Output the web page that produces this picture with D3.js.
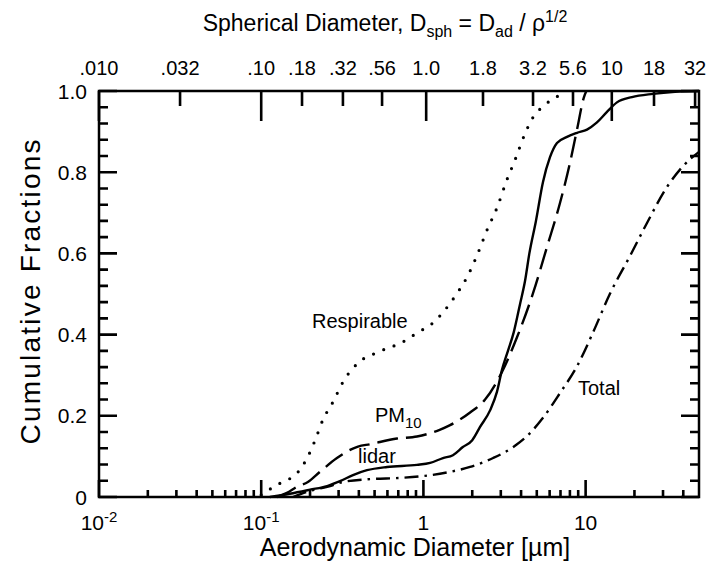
<!DOCTYPE html>
<html>
<head>
<meta charset="utf-8">
<script src="https://cdn.jsdelivr.net/npm/d3@7/dist/d3.min.js"></script>
<style>
  body { margin: 0; background: #fff; }
  text { font-family: "Liberation Sans", Arial, Helvetica, sans-serif; fill: #000; }
</style>
</head>
<body>
<svg id="chart" width="712" height="573"></svg>
<script>
// cumulative fraction vs aerodynamic diameter [um]
const respirable = [[0.1,0.005],[0.11,0.015],[0.118,0.025],[0.146,0.042],[0.169,0.062],[0.192,0.096],
  [0.215,0.14],[0.24,0.19],[0.277,0.234],[0.319,0.283],[0.395,0.33],[0.518,0.356],[0.748,0.382],
  [0.913,0.404],[1.146,0.429],[1.36,0.461],[1.57,0.495],[1.86,0.542],[2.14,0.595],[2.47,0.658],
  [2.84,0.712],[3.27,0.781],[3.67,0.83],[4.23,0.895],[4.74,0.935],[5.46,0.962],[6.21,0.979],[6.95,0.99]];
const pm10 = [[0.125,0],[0.144,0.01],[0.166,0.025],[0.194,0.037],[0.23,0.062],[0.293,0.096],
  [0.353,0.116],[0.395,0.124],[0.469,0.13],[0.688,0.144],[0.913,0.149],[1.27,0.166],[1.46,0.177],
  [1.94,0.208],[2.4,0.24],[3.05,0.308],[3.78,0.394],[4.74,0.502],[5.78,0.616],[6.95,0.724],
  [8.01,0.823],[8.85,0.905],[9.77,0.985],[10.1,1.0]];
const lidar = [[0.113,0],[0.15,0.008],[0.2,0.018],[0.255,0.027],[0.306,0.039],[0.368,0.054],
  [0.449,0.066],[0.597,0.074],[0.913,0.079],[1.1,0.084],[1.32,0.096],[1.52,0.103],[1.75,0.123],
  [2.0,0.14],[2.23,0.172],[2.58,0.214],[2.84,0.259],[3.05,0.313],[3.32,0.36],[3.6,0.405],
  [3.94,0.475],[4.23,0.532],[4.5,0.6],[4.94,0.68],[5.46,0.776],[6.03,0.837],[6.66,0.872],
  [7.68,0.887],[8.85,0.897],[10.2,0.905],[11.7,0.922],[13.5,0.948],[15.6,0.972],[19.3,0.985],
  [26,0.993],[35.6,0.998],[50,1.0]];
const total = [[0.157,0],[0.2,0.015],[0.266,0.027],[0.319,0.037],[0.469,0.044],[0.718,0.047],
  [1.02,0.052],[1.46,0.062],[1.94,0.074],[2.69,0.096],[3.67,0.126],[4.35,0.15],[5.46,0.195],
  [6.95,0.256],[8.85,0.322],[11.1,0.405],[14.1,0.5],[18.8,0.594],[23.9,0.675],[31.8,0.764],
  [39.9,0.815],[50,0.85]];

const yTicks = [0, 0.2, 0.4, 0.6, 0.8, 1.0];
const yTickLabels = ["0", "0.2", "0.4", "0.6", "0.8", "1.0"];
const xMajor = [0.01, 0.1, 1, 10];
const xMajorLabels = [["10", "-2"], ["10", "-1"], ["1", ""], ["10", ""]];
// spherical diameter labels and where they sit on the aerodynamic axis
const sphLabels = [".010", ".032", ".10", ".18", ".32", ".56", "1.0", "1.8", "3.2", "5.6", "10", "18", "32"];
const sphAtDad  = [0.01, 0.0316, 0.1, 0.1785, 0.319, 0.556, 1.04, 2.33, 4.74, 8.36, 14.5, 26.4, 47.3];
const sphLong   = [true, false, true, false, false, false, true, false, false, false, true, false, false];

const svg = d3.select('#chart');
const m = {left: 99, right: 699, top: 91, bottom: 497};

const x = d3.scaleLog().domain([0.01, 50]).range([m.left, m.right]);
const y = d3.scaleLinear().domain([0, 1]).range([m.bottom, m.top]);

// minor log ticks
const xMinor = [];
xMajor.forEach(dec => {
    for (let k = 2; k <= 9; k++) {
        if (dec * k < 50) xMinor.push(dec * k);
    }
});
const yMinor = d3.range(0, 1.0001, 0.04).filter(v => Math.abs(v * 5 - Math.round(v * 5)) > 1e-6);

// all tick marks as one path
const p = d3.path();
function vTicks(vals, y0, len) {
    vals.forEach(v => { p.moveTo(x(v), y0); p.lineTo(x(v), y0 + len); });
}
function hTicks(vals, x0, len) {
    vals.forEach(v => { p.moveTo(x0, y(v)); p.lineTo(x0 + len, y(v)); });
}
vTicks(xMajor, m.bottom, -17);
vTicks(xMinor, m.bottom, -7);
sphAtDad.forEach((v, i) => vTicks([v], m.top, sphLong[i] ? 30 : 15));
hTicks(yTicks, m.left, 18);
hTicks(yMinor, m.left, 9);
hTicks(yTicks, m.right, -18);
hTicks(yMinor, m.right, -9);

svg.append('path')
    .attr('class', 'ticks')
    .attr('d', p.toString())
    .attr('fill', 'none')
    .attr('stroke', '#000')
    .attr('stroke-width', 2.6);

// frame
svg.append('rect')
    .attr('x', m.left).attr('y', m.top)
    .attr('width', m.right - m.left).attr('height', m.bottom - m.top)
    .attr('fill', 'none').attr('stroke', '#000').attr('stroke-width', 2.5);

// y tick labels
svg.append('g').selectAll('text').data(yTicks).join('text')
    .attr('x', m.left - 12).attr('y', d => y(d))
    .attr('dy', '0.36em')
    .attr('text-anchor', 'end')
    .attr('font-size', 21)
    .text((d, i) => yTickLabels[i]);

// bottom tick labels
const xl = svg.append('g').attr('font-size', 21).attr('text-anchor', 'middle')
    .selectAll('text').data(xMajor).join('text')
    .attr('x', d => x(d)).attr('y', 530);
xl.append('tspan').text((d, i) => xMajorLabels[i][0]);
xl.append('tspan').attr('dy', -8).attr('font-size', 15).text((d, i) => xMajorLabels[i][1]);

// top tick labels
svg.append('g').selectAll('text').data(sphAtDad).join('text')
    .attr('x', d => x(d)).attr('y', 75)
    .attr('text-anchor', 'middle')
    .attr('font-size', 20)
    .text((d, i) => sphLabels[i]);

// axis titles
svg.append('text')
    .attr('x', 415).attr('y', 556)
    .attr('text-anchor', 'middle').attr('font-size', 25)
    .text('Aerodynamic Diameter [\u00b5m]');

svg.append('text')
    .attr('transform', 'translate(40,292) rotate(-90)')
    .attr('text-anchor', 'middle').attr('font-size', 28)
    .attr('textLength', 305).attr('lengthAdjust', 'spacing')
    .text('Cumulative Fractions');

const title = svg.append('text')
    .attr('x', 385).attr('y', 31)
    .attr('text-anchor', 'middle').attr('font-size', 23);
title.append('tspan').text('Spherical Diameter, D');
title.append('tspan').attr('dy', 6).attr('font-size', 16).text('sph');
title.append('tspan').attr('dy', -6).text(' = D');
title.append('tspan').attr('dy', 6).attr('font-size', 16).text('ad');
title.append('tspan').attr('dy', -6).text(' / \u03c1');
title.append('tspan').attr('dy', -9).attr('font-size', 16).text('1/2');

// curves
const line = d3.line()
    .x(d => x(d[0]))
    .y(d => y(d[1]))
    .curve(d3.curveMonotoneX);

const curves = svg.append('g').attr('fill', 'none').attr('stroke', '#000');

curves.append('path').datum(respirable)
    .attr('d', line)
    .attr('stroke-width', 3.2)
    .attr('stroke-linecap', 'round')
    .attr('stroke-dasharray', '0,11');

curves.append('path').datum(pm10)
    .attr('d', line)
    .attr('stroke-width', 2.4)
    .attr('stroke-dasharray', '21,8');

curves.append('path').datum(lidar)
    .attr('d', line)
    .attr('stroke-width', 2.4);

curves.append('path').datum(total)
    .attr('d', line)
    .attr('stroke-width', 2.4)
    .attr('stroke-dasharray', '14,6,2.5,6');

// curve labels
const lab = svg.append('g').attr('font-size', 20);
lab.append('text').attr('x', 312).attr('y', 328).text('Respirable');
const pm = lab.append('text').attr('x', 375).attr('y', 422);
pm.append('tspan').text('PM');
pm.append('tspan').attr('dy', 6).attr('font-size', 15).text('10');
lab.append('text').attr('x', 358).attr('y', 463).text('lidar');
lab.append('text').attr('x', 578).attr('y', 395).text('Total');
</script>
</body>
</html>
